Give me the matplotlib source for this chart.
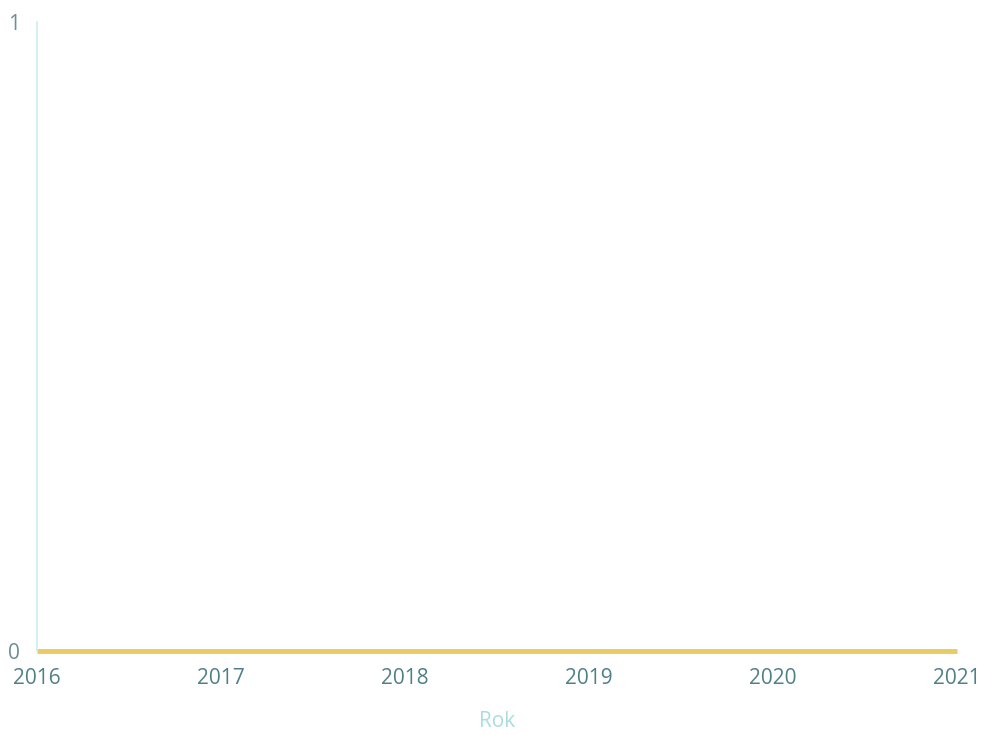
import matplotlib.pyplot as plt

years = [2016, 2017, 2018, 2019, 2020, 2021]
values = [0, 0, 0, 0, 0, 0]
y_ticks = [0, 1]

plt.rcParams['font.family'] = ['Open Sans', 'DejaVu Sans']

fig = plt.figure(figsize=(9.82, 7.35), dpi=100)
ax = fig.add_axes([37 / 982, 1 - 651 / 735, 920 / 982, 629 / 735])

ax.plot(years, values, color='#e8cb64', linewidth=3.5, solid_capstyle='butt', clip_on=False)

ax.set_xlim(2016, 2021)
ax.set_ylim(0, 1)
ax.set_xticks(years)
ax.set_yticks(y_ticks)

for s in ['top', 'right', 'bottom']:
    ax.spines[s].set_visible(False)
ax.spines['left'].set_color('#c9eef0')
ax.spines['left'].set_linewidth(1.2)

ax.tick_params(axis='both', length=0, labelsize=15, colors='#4f8088')
ax.tick_params(axis='x', pad=12)
ax.tick_params(axis='y', pad=12)
for lab in ax.get_yticklabels():
    lab.set_color('#6b8f94')

ax.set_xlabel('Rok', color='#a9dde2', fontsize=15, labelpad=16)

fig.savefig('out.png', dpi=100, facecolor='white')
